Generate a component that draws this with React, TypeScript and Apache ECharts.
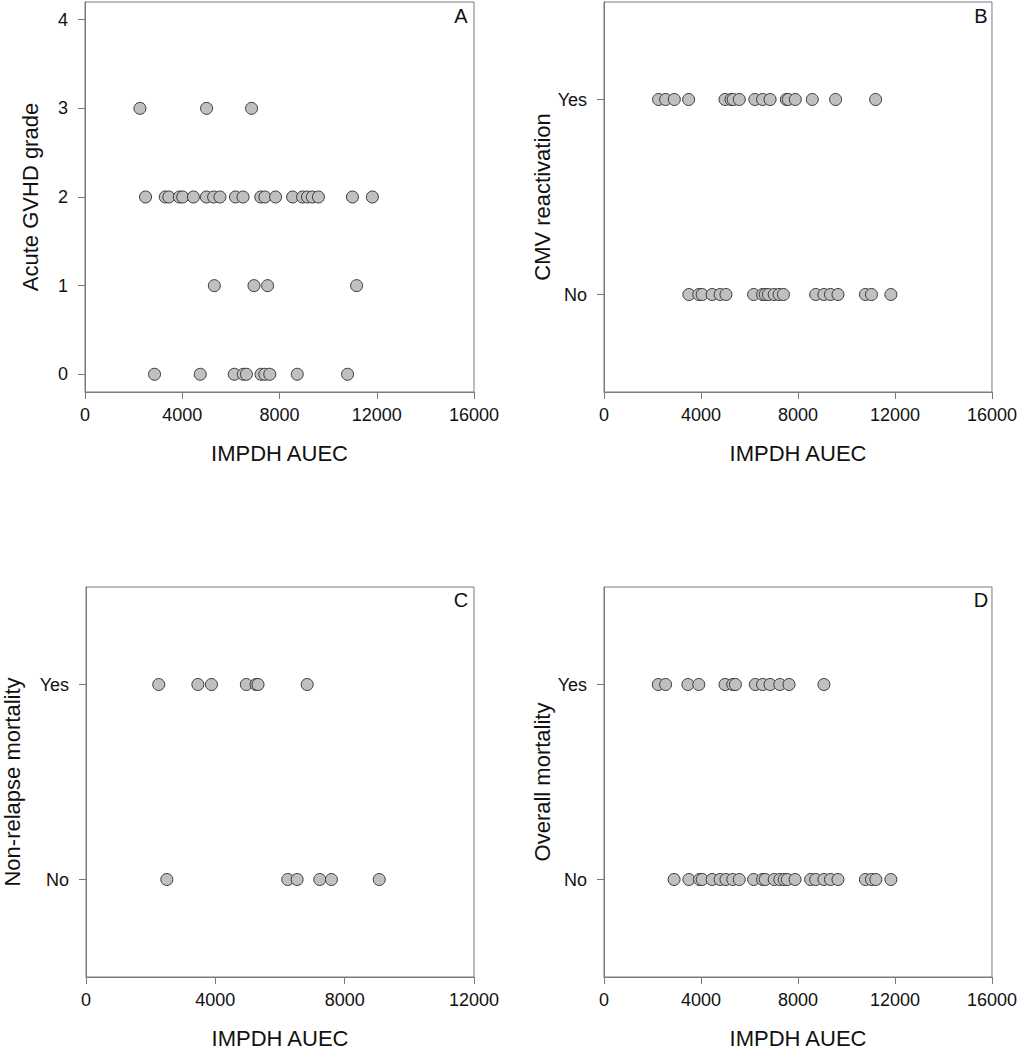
import React, { useEffect, useRef } from "react";
import * as echarts from "echarts";

// ---- Data (IMPDH AUEC values per outcome category) ----
const gvhdGrade0 = [2860, 4740, 6140, 6510, 6640, 7240, 7400, 7600, 8730, 10800];
const gvhdGrade1 = [5320, 6950, 7510, 11170];
const gvhdGrade2 = [2490, 3300, 3450, 3880, 4020, 4460, 4990, 5290, 5550, 6190, 6500, 7230, 7400, 7840, 8540, 8950, 9150, 9350, 9600, 11000, 11820];
const gvhdGrade3 = [2260, 5000, 6850];

const cmvYes = [2250, 2540, 2900, 3490, 4990, 5240, 5330, 5580, 6220, 6540, 6850, 7520, 7600, 7890, 8590, 9550, 11200];
const cmvNo = [3500, 3910, 4050, 4460, 4790, 5030, 6170, 6540, 6650, 6780, 7020, 7220, 7400, 8730, 9070, 9340, 9650, 10780, 11030, 11830];

const nrmYes = [2250, 3460, 3880, 4960, 5260, 5320, 6840];
const nrmNo = [2500, 6240, 6530, 7230, 7590, 9070];

const omYes = [2240, 2540, 3460, 3910, 4990, 5310, 5420, 6240, 6540, 6850, 7250, 7630, 9070];
const omNo = [2890, 3500, 3940, 4050, 4460, 4790, 5030, 5310, 5580, 6170, 6540, 6650, 7020, 7250, 7430, 7560, 7880, 8520, 8730, 9070, 9340, 9650, 10780, 11030, 11210, 11830];

const gradeTicks = [0, 1, 2, 3, 4];
const yesNoTicks = [0, 1];
const yesNoLabels = ["No", "Yes"];
const xTitle = "IMPDH AUEC";
const panelLetters = ["A", "B", "C", "D"];
const yTitles = ["Acute GVHD grade", "CMV reactivation", "Non-relapse mortality", "Overall mortality"];

const FONT = "Liberation Sans, Arial, sans-serif";
const AXIS_COLOR = "#7a7a7a";
const TEXT_COLOR = "#111";

export default function App() {
  const ref = useRef<HTMLDivElement>(null);

  useEffect(() => {
    if (!ref.current) return;
    const chart = echarts.init(ref.current, null, { renderer: "svg" });

    const grids = [
      { left: 85, top: 2, width: 389, height: 390 },
      { left: 604, top: 2, width: 390, height: 390 },
      { left: 85, top: 587, width: 389, height: 390 },
      { left: 604, top: 587, width: 390, height: 390 },
    ].map((g) => ({ ...g, show: true, borderColor: AXIS_COLOR, borderWidth: 1, containLabel: false }));

    const xMax = [16000, 16000, 12000, 16000];
    const yNameGap = [44, 43, 63, 45];

    const xAxis = grids.map((_, i) => ({
      type: "value",
      gridIndex: i,
      min: 0,
      max: xMax[i],
      interval: 4000,
      name: xTitle,
      nameLocation: "middle",
      nameGap: 50,
      nameTextStyle: { fontFamily: FONT, fontSize: 22, color: TEXT_COLOR },
      axisLine: { show: true, onZero: false, lineStyle: { color: AXIS_COLOR, width: 1 } },
      axisTick: { show: true, inside: false, length: 7, lineStyle: { color: AXIS_COLOR } },
      axisLabel: {
        fontFamily: FONT,
        fontSize: 18,
        color: TEXT_COLOR,
        margin: 14,
        formatter: (v: number) => String(v),
      },
      splitLine: { show: false },
    }));

    const yAxis = grids.map((_, i) => {
      const isGrade = i === 0;
      return {
        type: "value",
        gridIndex: i,
        min: isGrade ? -0.2 : -0.5,
        max: isGrade ? 4.2 : 1.5,
        name: yTitles[i],
        nameLocation: "middle",
        nameGap: yNameGap[i],
        nameTextStyle: { fontFamily: FONT, fontSize: 22, color: TEXT_COLOR },
        axisLine: { show: true, onZero: false, lineStyle: { color: AXIS_COLOR, width: 1 } },
        axisTick: {
          show: true,
          inside: false,
          length: 7,
          lineStyle: { color: AXIS_COLOR },
          customValues: isGrade ? gradeTicks : yesNoTicks,
        },
        axisLabel: {
          fontFamily: FONT,
          fontSize: 18,
          color: TEXT_COLOR,
          margin: 17,
          customValues: isGrade ? gradeTicks : yesNoTicks,
          formatter: isGrade ? (v: number) => String(v) : (v: number) => yesNoLabels[Math.round(v)],
        },
        splitLine: { show: false },
      };
    });

    const groups: { panel: number; y: number; xs: number[] }[] = [
      { panel: 0, y: 0, xs: gvhdGrade0 },
      { panel: 0, y: 1, xs: gvhdGrade1 },
      { panel: 0, y: 2, xs: gvhdGrade2 },
      { panel: 0, y: 3, xs: gvhdGrade3 },
      { panel: 1, y: 1, xs: cmvYes },
      { panel: 1, y: 0, xs: cmvNo },
      { panel: 2, y: 1, xs: nrmYes },
      { panel: 2, y: 0, xs: nrmNo },
      { panel: 3, y: 1, xs: omYes },
      { panel: 3, y: 0, xs: omNo },
    ];

    const series = groups.map((g) => ({
      type: "scatter",
      xAxisIndex: g.panel,
      yAxisIndex: g.panel,
      symbol: "circle",
      symbolSize: 12,
      itemStyle: { color: "#c0c0c0", borderColor: "#3a3a3a", borderWidth: 1, opacity: 1 },
      emphasis: { disabled: true },
      data: g.xs.map((x) => [x, g.y]),
    }));

    const letterPos = [
      [461, 16],
      [981, 16],
      [461, 600],
      [981, 600],
    ];
    const graphic = panelLetters.map((t, i) => ({
      type: "text",
      x: letterPos[i][0],
      y: letterPos[i][1],
      style: {
        text: t,
        fontFamily: FONT,
        fontSize: 20,
        fill: TEXT_COLOR,
        align: "center",
        verticalAlign: "middle",
      },
    }));

    chart.setOption({
      animation: false,
      backgroundColor: "#ffffff",
      grid: grids,
      xAxis,
      yAxis,
      series,
      graphic,
    });

    return () => chart.dispose();
  }, []);

  return (
    <div
      ref={ref}
      style={{ position: "fixed", left: 0, top: 0, width: 1020, height: 1050, background: "#fff" }}
    />
  );
}
